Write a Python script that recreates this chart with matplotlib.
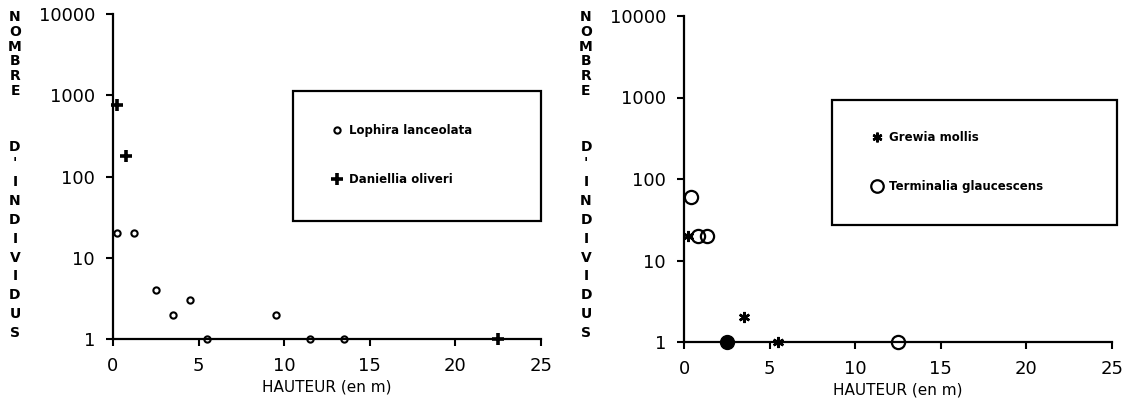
"""
Nombre d'individus par classe de hauteur (deux panneaux, echelle log).
"""

import matplotlib
matplotlib.use("Agg")
import matplotlib.pyplot as plt
from matplotlib.lines import Line2D
from matplotlib.patches import Rectangle


# panneau gauche
LOPHIRA_X: list[float] = [0.25, 1.25, 2.5, 3.5, 4.5, 5.5, 9.5, 11.5, 13.5]
LOPHIRA_Y: list[float] = [20, 20, 4, 2, 3, 1, 2, 1, 1]

DANIELLIA_X: list[float] = [0.25, 0.75, 22.5]
DANIELLIA_Y: list[float] = [750, 180, 1]

# panneau droit
GREWIA_X: list[float] = [0.25, 3.5, 5.5]
GREWIA_Y: list[float] = [20, 2, 1]

TERMINALIA_X: list[float] = [0.4, 0.8, 1.35, 12.5]
TERMINALIA_Y: list[float] = [60, 20, 20, 1]

# cercle plein (superposition des deux especes)
OVERLAP_X: list[float] = [2.5]
OVERLAP_Y: list[float] = [1]

Y_TICKS: list[int] = [1, 10, 100, 1000, 10000]
X_TICKS: list[int] = [0, 5, 10, 15, 20, 25]

YLABEL_TOP: str = "NOMBRE"
YLABEL_MID: str = "D'"
YLABEL_BOT: str = "INDIVIDUS"

W, H = 1133, 409
ASTERISK = (6, 2, 0)


def style_axes(ax) -> None:
    """
    Axes en L, echelle log, graduations lisibles.
    """
    ax.set_yscale("log")
    ax.set_xlim(0, 25)
    ax.set_ylim(1, 10000)
    ax.spines["top"].set_visible(False)
    ax.spines["right"].set_visible(False)
    for side in ("left", "bottom"):
        ax.spines[side].set_linewidth(1.6)
        ax.spines[side].set_zorder(6)
    ax.set_yticks(Y_TICKS)
    ax.set_yticklabels([str(v) for v in Y_TICKS])
    ax.minorticks_off()
    ax.set_xticks(X_TICKS)
    ax.tick_params(axis="both", direction="out", length=5, width=1.5,
                   labelsize=13, pad=8)
    ax.set_xlabel("HAUTEUR (en m)", fontsize=11, labelpad=3)


def vertical_label(fig, x_px: float) -> None:
    """
    Titre de l'axe y ecrit lettre par lettre.
    """
    kw = dict(ha="center", va="center", fontsize=10, fontweight="bold")
    for i, ch in enumerate(YLABEL_TOP):
        fig.text(x_px / W, 1 - (17 + i * 14.8) / H, ch, **kw)
    for i, ch in enumerate(YLABEL_MID):
        fig.text(x_px / W, 1 - (147 + i * 15.5) / H, ch, **kw)
    for i, ch in enumerate(YLABEL_BOT):
        fig.text(x_px / W, 1 - (182 + i * 18.9) / H, ch, **kw)


def legend_box(fig, x0, y0, x1, y1) -> None:
    """
    Cadre de la legende, en pixels de la figure.
    """
    fig.patches.append(Rectangle(
        (x0 / W, 1 - y1 / H), (x1 - x0) / W, (y1 - y0) / H,
        transform=fig.transFigure, fill=False, edgecolor="black",
        linewidth=1.6
    ))


def main() -> None:
    """
    Deux panneaux cote a cote.
    """
    fig = plt.figure(figsize=(W / 100, H / 100), dpi=100)

    ax1 = fig.add_axes([113 / W, 70 / H, 428 / W, 325 / H])
    ax2 = fig.add_axes([684 / W, 67 / H, 428 / W, 326 / H])

    style_axes(ax1)
    style_axes(ax2)

    # gauche
    ax1.plot(LOPHIRA_X, LOPHIRA_Y, linestyle="none", marker="o",
             markersize=4.5, markerfacecolor="none",
             markeredgecolor="black", markeredgewidth=1.5,
             clip_on=False, zorder=5)
    ax1.plot(DANIELLIA_X, DANIELLIA_Y, linestyle="none", marker="+",
             markersize=8, markeredgewidth=2.6, color="black",
             clip_on=False, zorder=7)

    # droite
    ax2.plot(GREWIA_X, GREWIA_Y, linestyle="none", marker=ASTERISK,
             markersize=8, markeredgewidth=1.8, color="black",
             clip_on=False, zorder=4)
    ax2.plot(TERMINALIA_X, TERMINALIA_Y, linestyle="none", marker="o",
             markersize=9.5, markerfacecolor="none",
             markeredgecolor="black", markeredgewidth=1.6,
             clip_on=False, zorder=5)
    ax2.plot(OVERLAP_X, OVERLAP_Y, linestyle="none", marker="o",
             markersize=10, color="black", clip_on=False, zorder=7)

    leg_kw = dict(frameon=False, loc="center left",
                  labelspacing=3.0, handlelength=0.8, handletextpad=0.6,
                  borderpad=0, borderaxespad=0,
                  prop={"size": 8.5, "weight": "bold"})

    h1 = [
        Line2D([], [], linestyle="none", marker="o", markersize=4.5,
               markerfacecolor="white", markeredgecolor="black",
               markeredgewidth=1.5),
        Line2D([], [], linestyle="none", marker="+", markersize=8,
               markeredgewidth=2.6, color="black"),
    ]
    fig.legend(h1, ["Lophira lanceolata", "Daniellia oliveri"],
               bbox_to_anchor=(332 / W, 1 - 155 / H), **leg_kw)

    h2 = [
        Line2D([], [], linestyle="none", marker=ASTERISK, markersize=7,
               markeredgewidth=1.8, color="black"),
        Line2D([], [], linestyle="none", marker="o", markersize=9,
               markerfacecolor="white", markeredgecolor="black",
               markeredgewidth=1.6),
    ]
    fig.legend(h2, ["Grewia mollis", "Terminalia glaucescens"],
               bbox_to_anchor=(872 / W, 1 - 162 / H), **leg_kw)

    legend_box(fig, 293, 91, 541, 221)
    legend_box(fig, 832, 100, 1117, 225)

    vertical_label(fig, 15)
    vertical_label(fig, 586)

    fig.savefig("out.png", dpi=100)


if __name__ == "__main__":
    main()
